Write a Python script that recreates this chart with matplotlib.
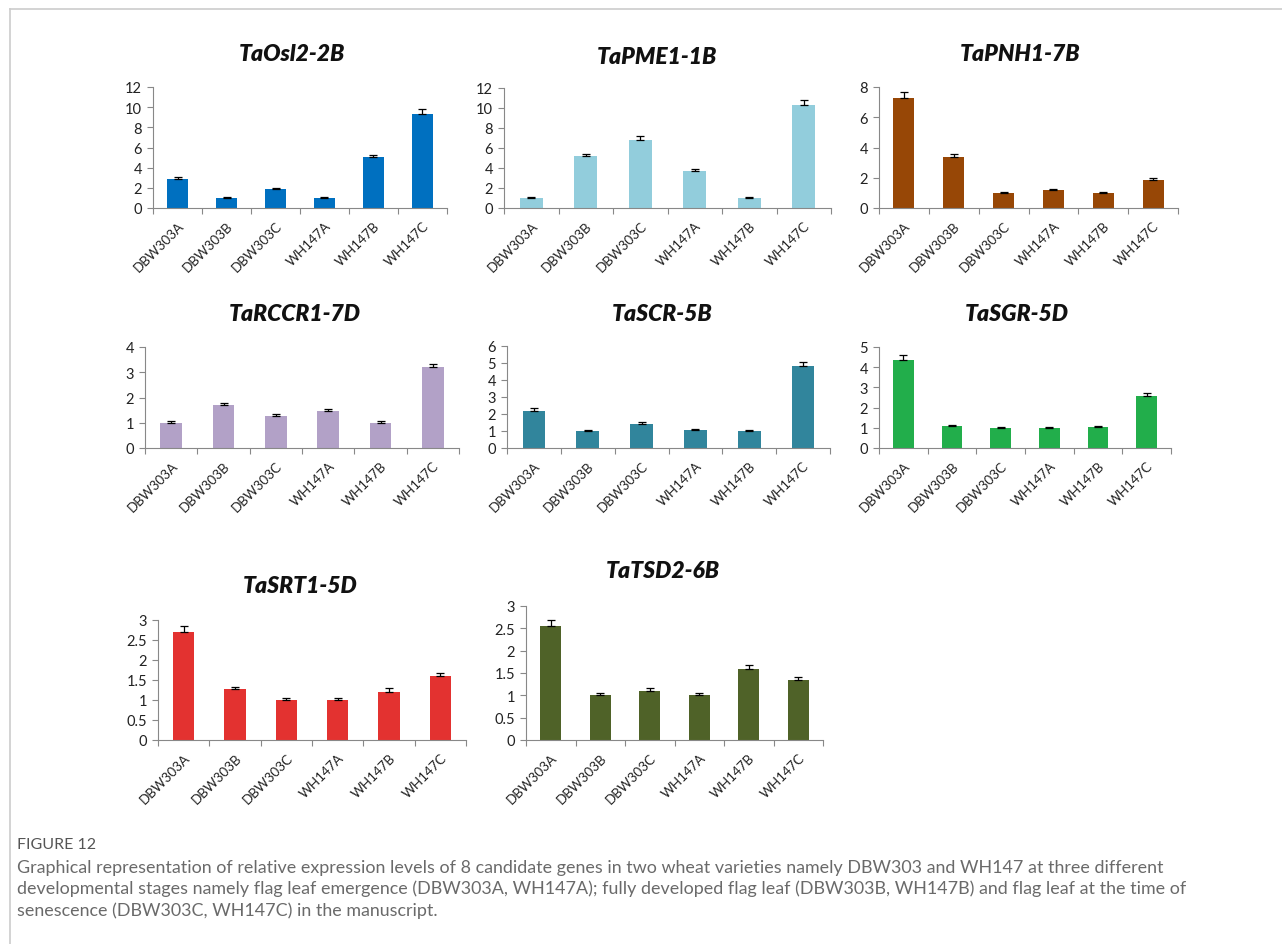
import numpy as np
import matplotlib
matplotlib.use('Agg')
import matplotlib.pyplot as plt
from matplotlib.lines import Line2D
from matplotlib.ticker import FixedLocator, FuncFormatter

plt.rcParams['font.family'] = ['Lato', 'DejaVu Sans']

samples = ['DBW303A', 'DBW303B', 'DBW303C', 'WH147A', 'WH147B', 'WH147C']

genes = ['TaOsl2-2B', 'TaPME1-1B', 'TaPNH1-7B', 'TaRCCR1-7D',
         'TaSCR-5B', 'TaSGR-5D', 'TaSRT1-5D', 'TaTSD2-6B']

# relative expression (mean) and upper error per sample
osl2_mean = [2.9, 1.0, 1.85, 1.0, 5.05, 9.35]
osl2_err = [0.15, 0.1, 0.12, 0.1, 0.25, 0.45]
pme1_mean = [1.0, 5.2, 6.82, 3.7, 1.0, 10.35]
pme1_err = [0.08, 0.22, 0.35, 0.22, 0.08, 0.5]
pnh1_mean = [7.26, 3.4, 1.0, 1.19, 1.0, 1.87]
pnh1_err = [0.42, 0.17, 0.06, 0.06, 0.06, 0.1]
rccr1_mean = [1.0, 1.7, 1.25, 1.45, 1.0, 3.19]
rccr1_err = [0.05, 0.1, 0.08, 0.09, 0.05, 0.15]
scr_mean = [2.18, 1.0, 1.41, 1.08, 1.0, 4.8]
scr_err = [0.15, 0.05, 0.1, 0.06, 0.04, 0.25]
sgr_mean = [4.37, 1.09, 1.0, 1.0, 1.05, 2.59]
sgr_err = [0.23, 0.05, 0.05, 0.05, 0.06, 0.13]
srt1_mean = [2.69, 1.27, 1.0, 1.0, 1.21, 1.6]
srt1_err = [0.15, 0.06, 0.05, 0.05, 0.08, 0.08]
tsd2_mean = [2.55, 1.0, 1.1, 1.0, 1.6, 1.35]
tsd2_err = [0.14, 0.05, 0.07, 0.05, 0.08, 0.07]

means = [osl2_mean, pme1_mean, pnh1_mean, rccr1_mean,
         scr_mean, sgr_mean, srt1_mean, tsd2_mean]
errs = [osl2_err, pme1_err, pnh1_err, rccr1_err,
        scr_err, sgr_err, srt1_err, tsd2_err]
colors = ['#0070C0', '#92CDDC', '#974706', '#B2A1C7',
          '#31859C', '#22AE4B', '#E33230', '#4F6228']
y_max = [12, 12, 8, 4, 6, 5, 3, 3]
y_step = [2, 2, 2, 1, 1, 1, 0.5, 0.5]

W, H = 1282, 945
# axes boxes in pixels: left, right, top, bottom
boxes = [(153, 447, 88, 209), (504, 831, 89, 209), (879, 1178, 88, 209),
         (145, 459, 348, 449), (507, 830, 347, 449), (879, 1171, 348, 449),
         (158, 466, 621, 741), (526, 823, 607, 741)]
title_y = [55, 57, 55, 315, 315, 315, 587, 572]
title_dx = [-8, -11, -8, -7, -6, -8, -12, -12]

fig = plt.figure(figsize=(W / 100, H / 100), dpi=100)

for i, gene in enumerate(genes):
    l, r, t, b = boxes[i]
    ax = fig.add_axes([l / W, 1 - b / H, (r - l) / W, (b - t) / H])
    x = np.arange(len(samples))
    ax.bar(x, means[i], width=0.42, color=colors[i], zorder=2)
    ax.errorbar(x, means[i], yerr=[np.zeros(len(samples)), errs[i]],
                fmt='none', ecolor='black', elinewidth=0.9, capsize=2.8,
                capthick=0.9, zorder=3)
    ax.set_xlim(-0.5, len(samples) - 0.5)
    ax.set_ylim(0, y_max[i])
    ax.set_yticks(np.arange(0, y_max[i] + 1e-9, y_step[i]))
    ax.yaxis.set_major_formatter(FuncFormatter(lambda v, p: '{:g}'.format(v)))
    # category boundary ticks, labels on the centres
    ax.xaxis.set_major_locator(FixedLocator(np.arange(-0.5, len(samples), 1.0)))
    ax.xaxis.set_minor_locator(FixedLocator(x))
    ax.set_xticklabels([], minor=False)
    ax.set_xticklabels(samples, minor=True, rotation=45, ha='right',
                       rotation_mode='anchor', fontsize=9.6, color='#222222')
    ax.tick_params(axis='x', which='minor', length=0, pad=8)
    ax.tick_params(axis='x', which='major', length=4, width=0.8, color='#888888')
    ax.tick_params(axis='y', length=4, width=0.8, color='#888888',
                   labelsize=10.5, labelcolor='#222222', pad=4)
    for s in ['top', 'right']:
        ax.spines[s].set_visible(False)
    for s in ['left', 'bottom']:
        ax.spines[s].set_color('#888888')
        ax.spines[s].set_linewidth(0.8)
    fig.text(((l + r) / 2 + title_dx[i]) / W, 1 - title_y[i] / H, gene,
             ha='center', va='center', fontsize=16.5, fontweight='heavy',
             fontstyle='italic', color='#111111')

# page frame
fig.add_artist(Line2D([10 / W, 10 / W], [0, 1 - 10 / H], color='#cccccc', lw=1.2))
fig.add_artist(Line2D([10 / W, 1], [1 - 10 / H, 1 - 10 / H], color='#cccccc', lw=1.2))

fig.text(17 / W, 1 - 845 / H, 'FIGURE 12', ha='left', va='center',
         fontsize=11.5, color='#555555')
caption = ('Graphical representation of relative expression levels of 8 candidate genes '
           'in two wheat varieties namely DBW303 and WH147 at three different\n'
           'developmental stages namely flag leaf emergence (DBW303A, WH147A); fully '
           'developed flag leaf (DBW303B, WH147B) and flag leaf at the time of\n'
           'senescence (DBW303C, WH147C) in the manuscript.')
fig.text(17 / W, 1 - 860 / H, caption, ha='left', va='top', fontsize=12.9,
         color='#6a6a6a', linespacing=1.36)

fig.savefig('out.png', dpi=100)
